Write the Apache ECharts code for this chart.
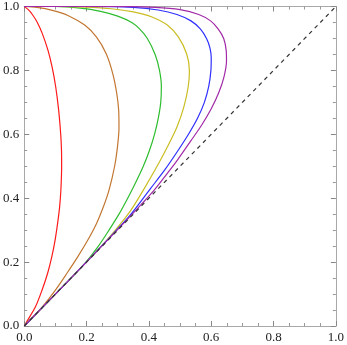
<!DOCTYPE html>
<html>
<head>
<meta charset="utf-8">
<script src="https://cdn.jsdelivr.net/npm/echarts@6/dist/echarts.min.js"></script>
<style>
    html, body { margin: 0; padding: 0; background: #fff; }
    #chart { width: 347px; height: 345px; }
</style>
</head>
<body>
<div id="chart"></div>
<script>
// curves, each from (0,0) round to (0,1)
var red = [[0, 0], [0.012, 0.02], [0.036, 0.06], [0.057, 0.112], [0.075, 0.165], [0.0885, 0.217],
    [0.099, 0.269], [0.107, 0.321], [0.1135, 0.373], [0.1175, 0.425], [0.12, 0.5], [0.1195, 0.55],
    [0.117, 0.6], [0.1105, 0.675], [0.101, 0.748], [0.0895, 0.81], [0.0765, 0.862], [0.058, 0.915],
    [0.042, 0.95], [0.026, 0.975], [0.013, 0.99], [0, 1]];
var brown = [[0, 0], [0.03, 0.03], [0.058, 0.06], [0.1, 0.1125], [0.137, 0.165], [0.172, 0.217],
    [0.204, 0.269], [0.232, 0.321], [0.254, 0.373], [0.272, 0.425], [0.29, 0.5], [0.299, 0.56],
    [0.304, 0.62], [0.303, 0.675], [0.297, 0.727], [0.284, 0.79], [0.263, 0.852], [0.232, 0.904],
    [0.195, 0.941], [0.14, 0.972], [0.09, 0.988], [0.04, 0.997], [0, 1]];
var green = [[0, 0], [0.1, 0.1], [0.15, 0.15], [0.198, 0.2], [0.238, 0.25], [0.272, 0.3],
    [0.304, 0.35], [0.332, 0.4], [0.358, 0.45], [0.382, 0.5], [0.402, 0.55], [0.418, 0.6],
    [0.43, 0.65], [0.438, 0.7], [0.44, 0.75], [0.434, 0.8], [0.42, 0.85], [0.395, 0.9],
    [0.37, 0.93], [0.345, 0.95], [0.3, 0.97], [0.245, 0.985], [0.18, 0.995], [0.1, 1], [0, 1]];
var yellow = [[0, 0], [0.1, 0.1], [0.199, 0.2], [0.265, 0.269], [0.31, 0.321], [0.344, 0.365],
    [0.385, 0.43], [0.432, 0.51], [0.459, 0.56], [0.49, 0.623], [0.512, 0.685], [0.526, 0.748],
    [0.53, 0.8], [0.521, 0.852], [0.495, 0.904], [0.46, 0.941], [0.41, 0.967], [0.35, 0.983],
    [0.28, 0.993], [0.2, 0.998], [0.1, 1], [0, 1]];
var blue = [[0, 0], [0.125, 0.125], [0.248, 0.25], [0.296, 0.3], [0.344, 0.352], [0.405, 0.43],
    [0.452, 0.49], [0.494, 0.55], [0.527, 0.6], [0.556, 0.65], [0.578, 0.7], [0.592, 0.75],
    [0.599, 0.8], [0.6, 0.84], [0.596, 0.87], [0.585, 0.9], [0.565, 0.93], [0.535, 0.955],
    [0.49, 0.975], [0.43, 0.989], [0.35, 0.997], [0.2, 1], [0, 1]];
var purple = [[0, 0], [0.15, 0.15], [0.298, 0.3], [0.375, 0.38], [0.417, 0.425], [0.469, 0.49],
    [0.492, 0.52], [0.535, 0.58], [0.57, 0.63], [0.6, 0.68], [0.624, 0.73], [0.641, 0.78],
    [0.649, 0.83], [0.648, 0.8625], [0.64, 0.9], [0.622, 0.93], [0.598, 0.955], [0.56, 0.975],
    [0.5, 0.99], [0.42, 0.997], [0.3, 1], [0, 1]];
var diagonal = [[0, 0], [1, 1]];

var curves = [
    { data: red, color: '#ff1a1a' },
    { data: brown, color: '#c27630' },
    { data: green, color: '#2ebd2e' },
    { data: yellow, color: '#c9bd22' },
    { data: blue, color: '#2f2fff' },
    { data: purple, color: '#a22aa8' }
];

var labelStyle = {
    fontFamily: 'Liberation Serif',
    fontSize: 13,
    color: '#222'
};

function frameAxis(pos, showLabel) {
    return {
        type: 'value',
        position: pos,
        min: 0,
        max: 1,
        interval: 0.2,
        axisLine: { show: true, onZero: false, lineStyle: { color: '#a8a8a8', width: 1 } },
        axisTick: { show: true, inside: true, length: 5, lineStyle: { color: '#888' } },
        minorTick: { show: true, splitNumber: 4, length: 3, lineStyle: { color: '#999' } },
        splitLine: { show: false },
        axisLabel: Object.assign({
            show: showLabel,
            margin: 5,
            formatter: function (v) { return v.toFixed(1); }
        }, labelStyle)
    };
}

var series = curves.map(function (c) {
    return {
        type: 'line',
        data: c.data,
        showSymbol: false,
        smooth: 0.3,
        lineStyle: { color: c.color, width: 1.2 },
        silent: true
    };
});
series.push({
    type: 'line',
    data: diagonal,
    showSymbol: false,
    lineStyle: { color: '#333', width: 1.2, type: [4, 4] },
    silent: true
});

var chart = echarts.init(document.getElementById('chart'));
chart.setOption({
    animation: false,
    grid: { left: 20, right: 8, top: 6, bottom: 19, containLabel: false },
    xAxis: [frameAxis('bottom', true), frameAxis('top', false)],
    yAxis: [frameAxis('left', true), frameAxis('right', false)],
    series: series
});
</script>
</body>
</html>
